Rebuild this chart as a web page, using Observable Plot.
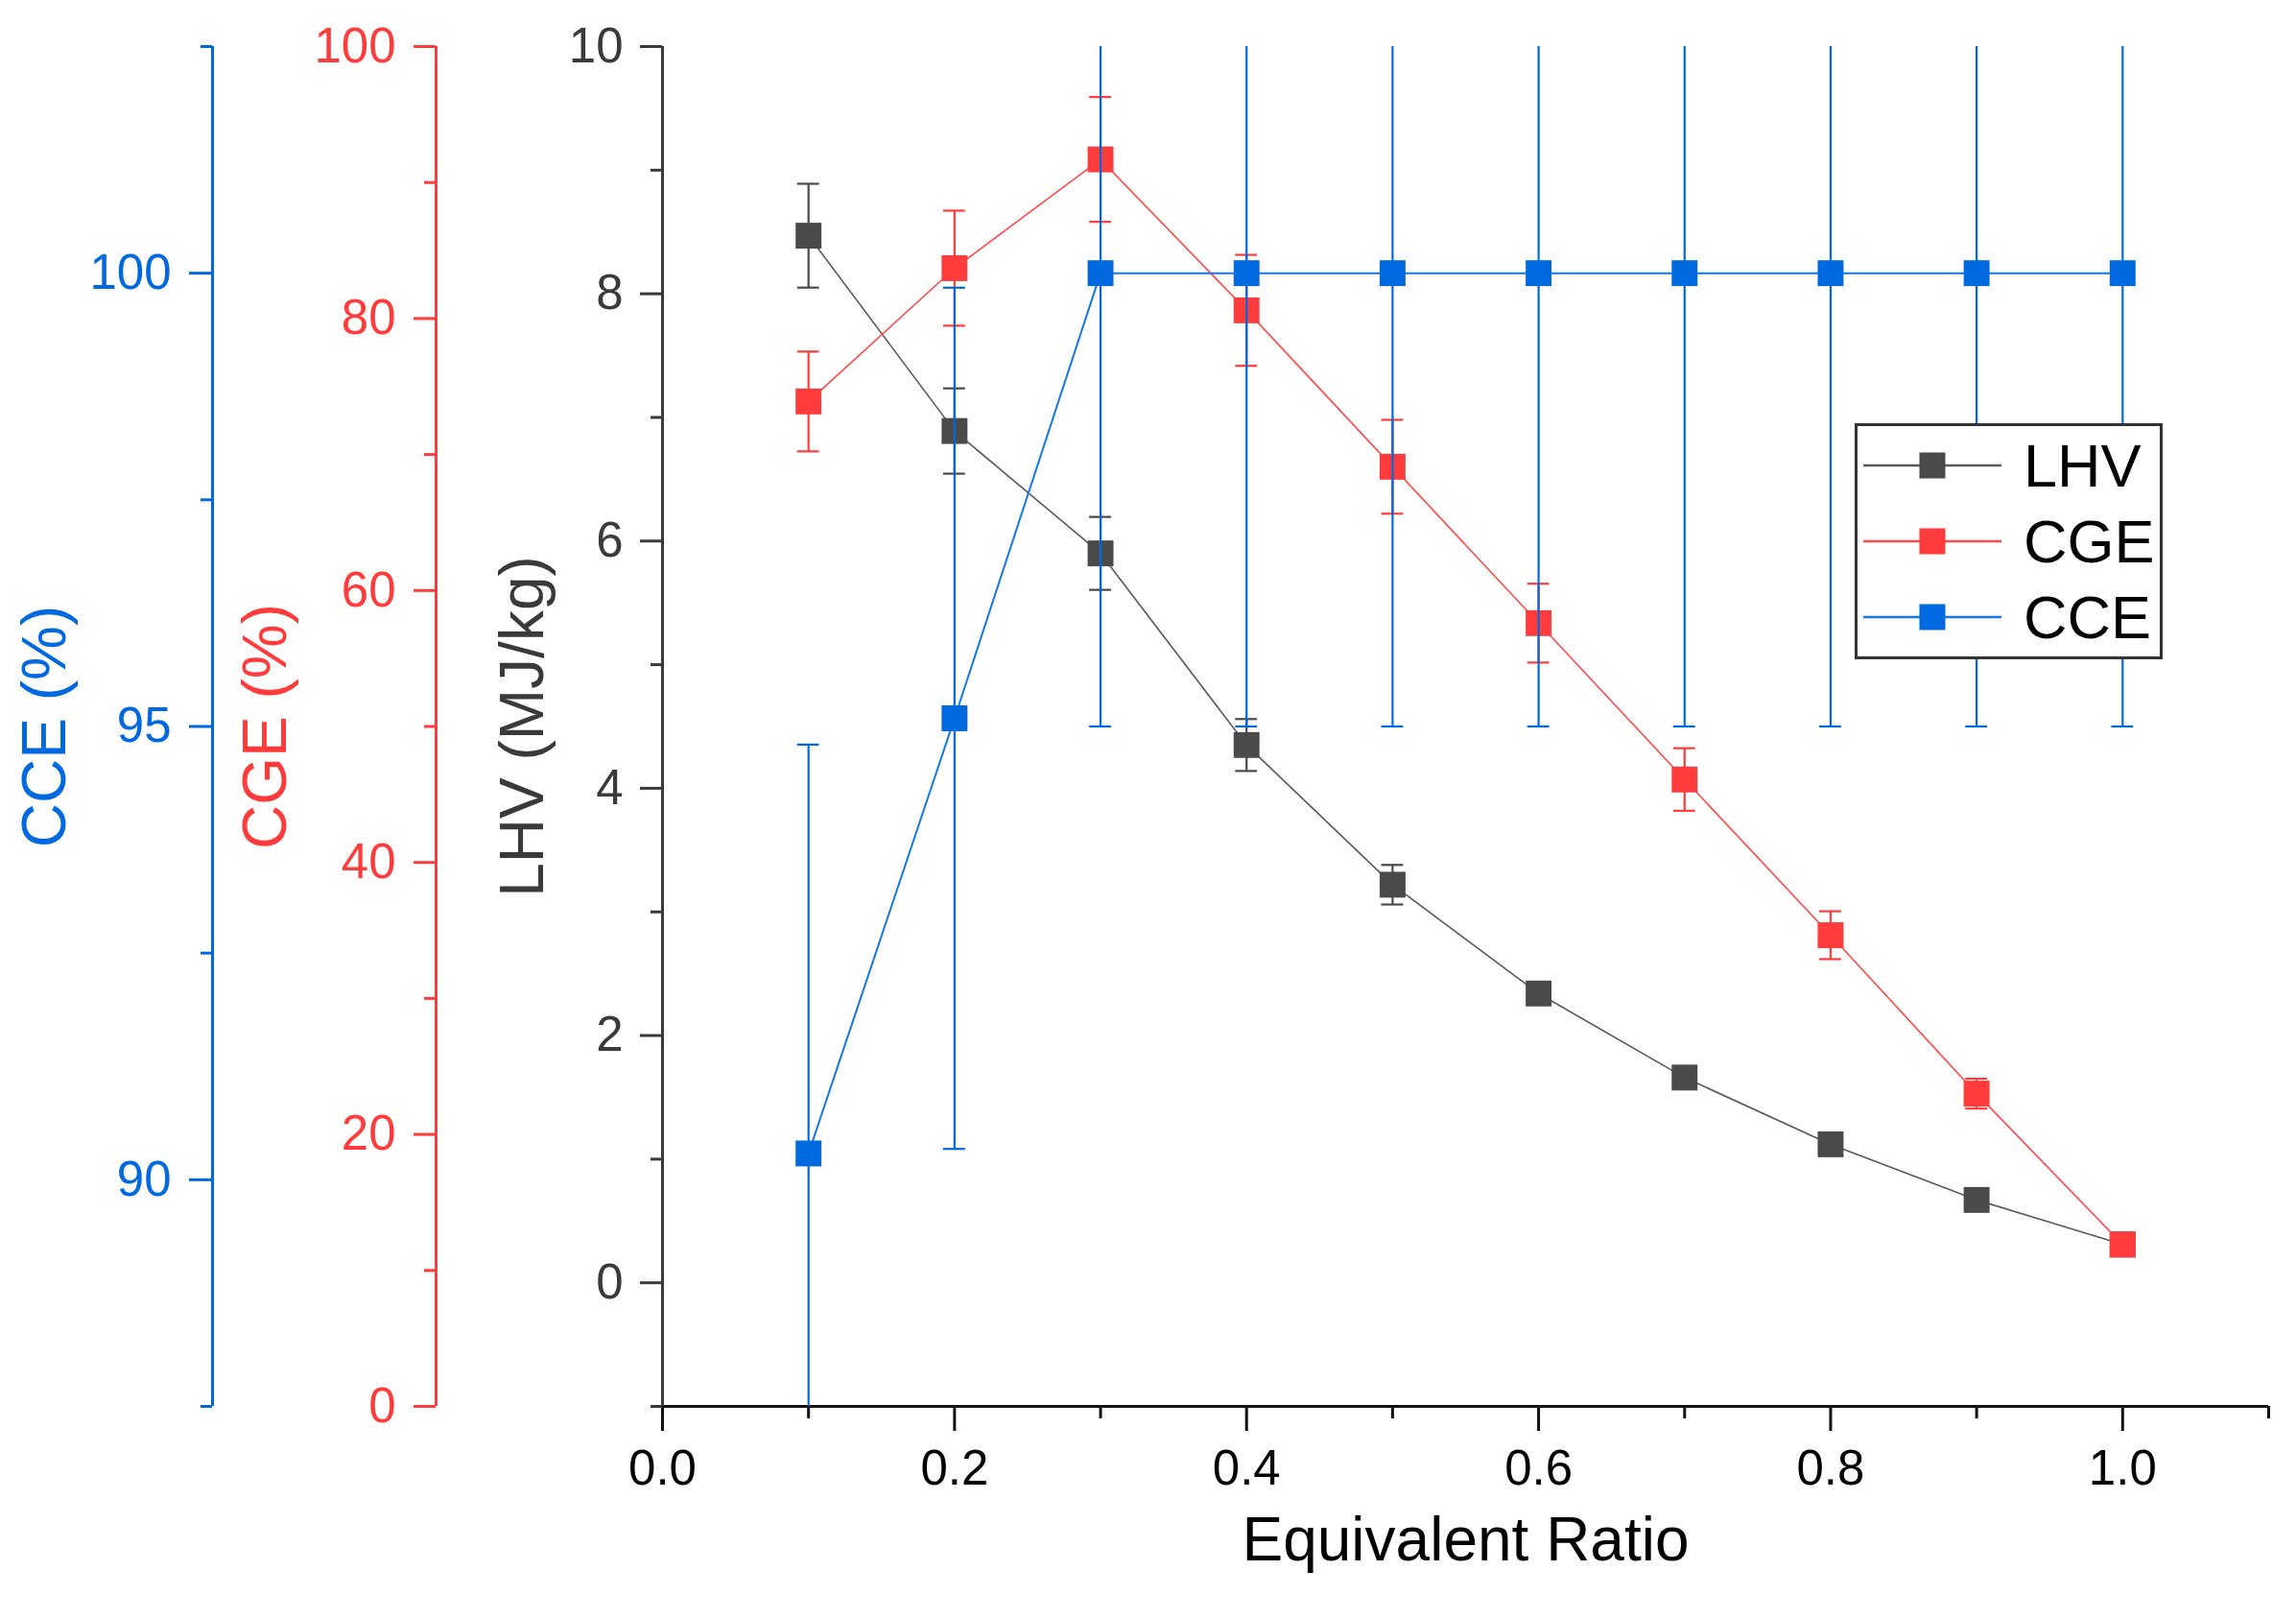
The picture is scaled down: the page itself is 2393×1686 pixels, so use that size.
<!DOCTYPE html>
<html>
<head>
<meta charset="utf-8">
<script src="https://cdn.jsdelivr.net/npm/d3@7"></script>
<script src="https://cdn.jsdelivr.net/npm/@observablehq/plot@0.6"></script>
<style>
  html, body { margin: 0; padding: 0; background: #fff; }
  #wrap { position: relative; width: 2393px; height: 1686px; }
  #legend { position: absolute; left: 1933px; top: 441px; }
</style>
</head>
<body>
<div id="wrap"><div id="chart"></div><div id="legend"></div></div>
<script>
// ---- data ----
const ratio = [0.1, 0.2, 0.3, 0.4, 0.5, 0.6, 0.7, 0.8, 0.9, 1.0];
const lhv    = [8.47, 6.89, 5.90, 4.35, 3.22, 2.34, 1.66, 1.12, 0.67, 0.31];
const lhvErr = [0.42, 0.345, 0.295, 0.21, 0.16, 0.09, 0.05, 0.04, 0.03, 0.02];
const cge    = [73.9, 83.7, 91.7, 80.6, 69.1, 57.6, 46.1, 34.65, 23.0, 11.9];
const cgeErr = [3.67, 4.23, 4.59, 4.08, 3.45, 2.9, 2.3, 1.76, 1.1, 0.3];
const cce    = [90.29, 95.09, 100, 100, 100, 100, 100, 100, 100, 100];
const cceErr = [4.51, 4.75, 5.0, 5.0, 5.0, 5.0, 5.0, 5.0, 5.0, 5.0];

const xMajor = [0, 0.2, 0.4, 0.6, 0.8, 1.0];
const xMinor = [0.1, 0.3, 0.5, 0.7, 0.9, 1.1];
const lhvMajor = [0, 2, 4, 6, 8, 10];
const lhvMinor = [-1, 1, 3, 5, 7, 9];
const cgeMajor = [0, 20, 40, 60, 80, 100];
const cgeMinor = [10, 30, 50, 70, 90];
const cceMajor = [90, 95, 100];
const cceMinor = [87.5, 92.5, 97.5, 102.5];

const lhvDomain = [-1, 10];
const cgeDomain = [0, 100];
const cceDomain = [87.5, 102.5];

const colors = {LHV: "#4a4a4a", CGE: "#ff3b3b", CCE: "#0069e0"};
const lineColors = {LHV: "#5a5a5a", CGE: "#ff4a4a", CCE: "#1577e6"};
const seriesNames = ["LHV", "CGE", "CCE"];

// map secondary-axis values onto the primary (LHV) y scale domain
const toL = (dom) => d3.scaleLinear().domain(dom).range(lhvDomain);
const cgeToL = toL(cgeDomain), cceToL = toL(cceDomain);

const rows = (vals, errs, map, name) => ratio.map((x, i) => ({
  name, x, y: map(vals[i]), lo: map(vals[i] - errs[i]), hi: map(vals[i] + errs[i])
}));
const dLHV = rows(lhv, lhvErr, v => v, "LHV");
const dCGE = rows(cge, cgeErr, cgeToL, "CGE");
const dCCE = rows(cce, cceErr, cceToL, "CCE");

const capHalf = 0.0075;
function seriesMarks(data, name) {
  const c = colors[name];
  return [
    Plot.line(data, {x: "x", y: "y", stroke: lineColors[name], strokeWidth: name === "CCE" ? 2 : 1.6, clip: true}),
    Plot.ruleX(data, {x: "x", y1: "lo", y2: "hi", stroke: c, strokeWidth: 2.2, clip: true}),
    Plot.ruleY(data, {y: "lo", x1: d => d.x - capHalf, x2: d => d.x + capHalf, stroke: c, strokeWidth: 2.2, clip: true}),
    Plot.ruleY(data, {y: "hi", x1: d => d.x - capHalf, x2: d => d.x + capHalf, stroke: c, strokeWidth: 2.2, clip: true}),
    Plot.dot(data, {x: "x", y: "y", symbol: "square", r: 15.2, fill: c, stroke: "none"})
  ];
}

const red = colors.CGE, blue = colors.CCE, gray = "#3a3a3a";
const tickFont = 51, titleFont = 64;

const chart = Plot.plot({
  width: 2393, height: 1686,
  marginLeft: 690, marginRight: 29, marginTop: 48, marginBottom: 221,
  x: {domain: [0, 1.1]},
  y: {domain: lhvDomain},
  style: {fontFamily: "'Liberation Sans', Arial, sans-serif", background: "white", overflow: "visible"},
  marks: [
    // x axis
    Plot.ruleY([-1], {stroke: "#111", strokeWidth: 3}),
    Plot.axisX(xMajor, {tickSize: 26, tickPadding: 19, strokeWidth: 3, stroke: "#111", fill: "#000", fontSize: tickFont, tickFormat: d3.format(".1f"), label: null}),
    Plot.axisX(xMinor, {tickSize: 13, strokeWidth: 3, stroke: "#111", text: null, label: null}),
    Plot.text(["Equivalent Ratio"], {frameAnchor: "bottom", dx: 0, dy: 160, fontSize: 64, fill: "#000"}),
    // LHV axis
    Plot.ruleX([0], {stroke: gray, strokeWidth: 3}),
    Plot.axisY(lhvMajor, {tickSize: 23, tickPadding: 18, strokeWidth: 3, stroke: gray, fill: gray, fontSize: tickFont, tickFormat: d => String(d), label: null}),
    Plot.axisY(lhvMinor, {tickSize: 12, strokeWidth: 3, stroke: gray, text: null, label: null}),
    Plot.text(["LHV (MJ/kg)"], {frameAnchor: "left", textAnchor: "middle", dx: -145, rotate: -90, fontSize: titleFont, fill: gray}),
    // CGE axis
    Plot.ruleX([0], {dx: -236, stroke: red, strokeWidth: 3}),
    Plot.axisY(cgeMajor.map(cgeToL), {dx: -236, tickSize: 23, tickPadding: 19, strokeWidth: 3, stroke: red, fill: red, fontSize: tickFont, tickFormat: d => String(Math.round(cgeToL.invert(d))), label: null}),
    Plot.axisY(cgeMinor.map(cgeToL), {dx: -236, tickSize: 12, strokeWidth: 3, stroke: red, text: null, label: null}),
    Plot.text(["CGE (%)"], {frameAnchor: "left", textAnchor: "middle", dx: -413, rotate: -90, fontSize: titleFont, fill: red}),
    // CCE axis
    Plot.ruleX([0], {dx: -469, stroke: blue, strokeWidth: 3}),
    Plot.axisY(cceMajor.map(cceToL), {dx: -469, tickSize: 24, tickPadding: 19, strokeWidth: 3, stroke: blue, fill: blue, fontSize: tickFont, tickFormat: d => String(Math.round(cceToL.invert(d))), label: null}),
    Plot.axisY(cceMinor.map(cceToL), {dx: -469, tickSize: 12, strokeWidth: 3, stroke: blue, text: null, label: null}),
    Plot.text(["CCE (%)"], {frameAnchor: "left", textAnchor: "middle", dx: -643, rotate: -90, fontSize: titleFont, fill: blue}),
    // series
    ...seriesMarks(dLHV, "LHV"),
    ...seriesMarks(dCGE, "CGE"),
    ...seriesMarks(dCCE, "CCE")
  ]
});
document.getElementById("chart").appendChild(chart);

// legend
const ns = "http://www.w3.org/2000/svg";
const lg = document.createElementNS(ns, "svg");
const W = 321, H = 246;
lg.setAttribute("width", W); lg.setAttribute("height", H);
lg.style.fontFamily = "'Liberation Sans', Arial, sans-serif";
const box = document.createElementNS(ns, "rect");
Object.entries({x: 1.5, y: 1.5, width: W - 3, height: H - 3, fill: "#fff", stroke: "#333", "stroke-width": 3}).forEach(([k, v]) => box.setAttribute(k, v));
lg.appendChild(box);
seriesNames.forEach((name, i) => {
  const cy = 44 + i * 79;
  const ln = document.createElementNS(ns, "line");
  Object.entries({x1: 9, x2: 153, y1: cy, y2: cy, stroke: lineColors[name], "stroke-width": 2.5}).forEach(([k, v]) => ln.setAttribute(k, v));
  lg.appendChild(ln);
  const sq = document.createElementNS(ns, "rect");
  Object.entries({x: 81 - 13.5, y: cy - 13.5, width: 27, height: 27, fill: colors[name]}).forEach(([k, v]) => sq.setAttribute(k, v));
  lg.appendChild(sq);
  const t = document.createElementNS(ns, "text");
  Object.entries({x: 176, y: cy + 22, "font-size": 63, fill: "#000"}).forEach(([k, v]) => t.setAttribute(k, v));
  t.textContent = name;
  lg.appendChild(t);
});
document.getElementById("legend").appendChild(lg);
</script>
</body>
</html>
